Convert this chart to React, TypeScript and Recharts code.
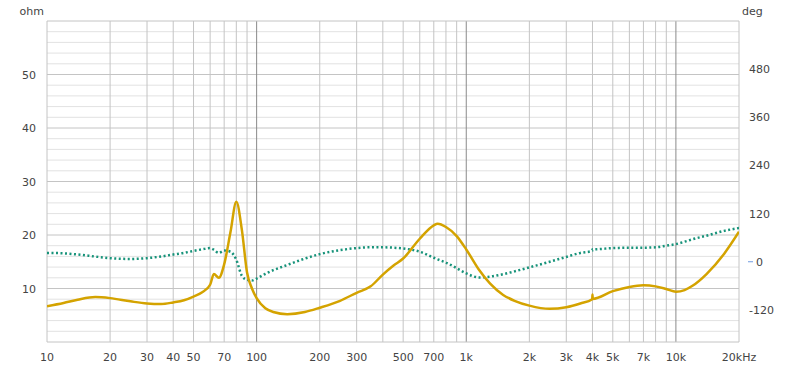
import React from "react";
import { LineChart, Line, XAxis, YAxis, ReferenceLine } from "recharts";

const freqs = [10, 12, 14, 17, 20, 25, 30, 35, 40, 45, 50, 55, 60, 62.5, 66, 70, 75, 80, 85, 90, 95, 100, 110, 120, 140, 170, 200, 250, 300, 350, 400, 450, 500, 600, 700, 730, 800, 900, 1000, 1150, 1300, 1500, 1700, 2000, 2500, 3000, 3500, 3990, 4000, 4010, 5000, 6000, 7000, 8000, 9000, 10000, 11000, 12000, 14000, 17000, 20000];
const impedance = [6.7, 7.3, 7.9, 8.4, 8.2, 7.6, 7.2, 7.1, 7.4, 7.8, 8.5, 9.3, 10.7, 12.7, 12.0, 14.5, 20.5, 26.2, 21, 13, 10, 8.2, 6.3, 5.6, 5.2, 5.6, 6.4, 7.7, 9.2, 10.4, 12.6, 14.3, 15.6, 19.3, 21.8, 22.1, 21.5, 19.8, 17.3, 13.5, 10.9, 8.8, 7.7, 6.8, 6.2, 6.5, 7.2, 8.0, 8.9, 8.05, 9.5, 10.3, 10.6, 10.4, 9.9, 9.4, 9.7, 10.5, 12.7, 16.5, 20.6];
const phase = [22, 21, 18, 13, 9, 7, 9, 13, 18, 22, 27, 31, 34, 30, 22, 28, 25, 5, -35, -45, -47, -42, -30, -21, -8, 8, 19, 29, 34, 36, 36, 35, 33, 25, 10, 6, -2, -16, -29, -39, -37, -31, -24, -14, 0, 12, 22, 27, 31, 31, 34, 35, 35, 36, 40, 44, 50, 56, 65, 77, 84];

const xTicks = [10, 20, 30, 40, 50, 70, 100, 200, 300, 500, 700, 1000, 2000, 3000, 4000, 5000, 7000, 10000, 20000];
const xTickLabels = ["10", "20", "30", "40", "50", "70", "100", "200", "300", "500", "700", "1k", "2k", "3k", "4k", "5k", "7k", "10k", "20kHz"];
const ohmTicks = [10, 20, 30, 40, 50];
const degTicks = [-120, 0, 120, 240, 360, 480];
const ohmMinor = [2, 4, 6, 8, 12, 14, 16, 18, 22, 24, 26, 28, 32, 34, 36, 38, 42, 44, 46, 48, 52, 54, 56, 58];
const freqMinor = [20, 30, 40, 50, 60, 70, 80, 90, 200, 300, 400, 500, 600, 700, 800, 900, 2000, 3000, 4000, 5000, 6000, 7000, 8000, 9000];
const freqMajor = [100, 1000, 10000];

const data = freqs.map((f, i) => ({ f, z: impedance[i], p: phase[i] }));

const FONT = "'DejaVu Sans', sans-serif";
const TXT = "#444";

const XTick = (props: any) => {
  const { x, y, payload } = props;
  const i = xTicks.indexOf(payload.value);
  return (
    <text x={x} y={y + 11} textAnchor="middle" fontSize={11} fontFamily={FONT} fill={TXT}>
      {i >= 0 ? xTickLabels[i] : ""}
    </text>
  );
};

const LTick = (props: any) => {
  const { x, y, payload } = props;
  return (
    <text x={x - 3} y={y + 4} textAnchor="end" fontSize={11} fontFamily={FONT} fill={TXT}>
      {payload.value}
    </text>
  );
};

const RTick = (props: any) => {
  const { x, y, payload } = props;
  if (payload.value === 0) {
    return (
      <g>
        <line x1={x + 1} x2={x + 6} y1={y} y2={y} stroke="#6f9be0" strokeWidth={1} />
        <text x={x + 9} y={y + 4} textAnchor="start" fontSize={11} fontFamily={FONT} fill={TXT}>
          0
        </text>
      </g>
    );
  }
  return (
    <text x={x + 2} y={y + 4} textAnchor="start" fontSize={11} fontFamily={FONT} fill={TXT}>
      {payload.value}
    </text>
  );
};

export default function App() {
  return (
    <div style={{ position: "absolute", left: 0, top: 0, background: "#fff" }}>
      <LineChart width={800} height={369} data={data} margin={{ top: 21, right: 0, left: 0, bottom: 0 }}>
        <XAxis
          dataKey="f"
          type="number"
          scale="log"
          domain={[10, 20000]}
          ticks={xTicks}
          tick={<XTick />}
          tickLine={false}
          axisLine={false}
          height={27}
          allowDataOverflow
          interval={0}
        />
        <YAxis
          yAxisId="left"
          orientation="left"
          domain={[0, 60]}
          ticks={ohmTicks}
          tick={<LTick />}
          tickLine={false}
          axisLine={false}
          width={47}
          interval={0}
        />
        <YAxis
          yAxisId="right"
          orientation="right"
          domain={[-200, 600]}
          ticks={degTicks}
          tick={<RTick />}
          tickLine={false}
          axisLine={false}
          width={61}
          interval={0}
        />
        {ohmMinor.map((v) => (
          <ReferenceLine key={"hm" + v} yAxisId="left" y={v} stroke="#e2e2e2" strokeWidth={1} />
        ))}
        {ohmTicks.map((v) => (
          <ReferenceLine key={"hM" + v} yAxisId="left" y={v} stroke="#c4c4c4" strokeWidth={1} />
        ))}
        {freqMinor.map((v) => (
          <ReferenceLine key={"vm" + v} yAxisId="left" x={v} stroke="#c4c4c4" strokeWidth={1} />
        ))}
        {freqMajor.map((v) => (
          <ReferenceLine key={"vM" + v} yAxisId="left" x={v} stroke="#8a8a8a" strokeWidth={1} />
        ))}
        <ReferenceLine yAxisId="left" y={60} stroke="#c4c4c4" strokeWidth={1} />
        <ReferenceLine yAxisId="left" y={0} stroke="#c4c4c4" strokeWidth={1} />
        <ReferenceLine yAxisId="left" x={10} stroke="#c4c4c4" strokeWidth={1} />
        <ReferenceLine yAxisId="left" x={20000} stroke="#c4c4c4" strokeWidth={1} />
        <Line
          yAxisId="right"
          dataKey="p"
          type="monotone"
          stroke="#17937a"
          strokeWidth={2.5}
          strokeDasharray="2 2.5"
          dot={false}
          isAnimationActive={false}
        />
        <Line
          yAxisId="left"
          dataKey="z"
          type="monotone"
          stroke="#d4a300"
          strokeWidth={2.5}
          dot={false}
          isAnimationActive={false}
        />
        <text x={44} y={15} textAnchor="end" fontSize={11} fontFamily={FONT} fill={TXT}>
          ohm
        </text>
        <text x={742} y={15} textAnchor="start" fontSize={11} fontFamily={FONT} fill={TXT}>
          deg
        </text>
      </LineChart>
    </div>
  );
}
